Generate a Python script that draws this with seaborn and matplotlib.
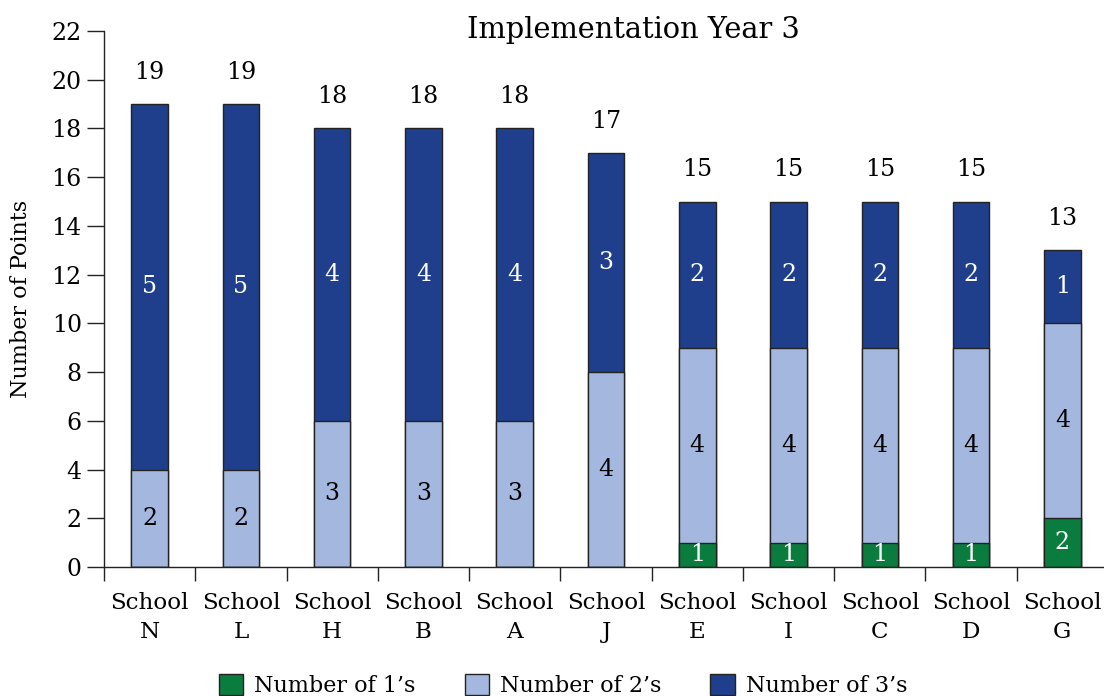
import numpy as np
import pandas as pd
import seaborn as sns
import matplotlib.pyplot as plt
from matplotlib.patches import Patch
from matplotlib.ticker import FixedLocator

# Counts per school (points = count * score)
schools = ["N", "L", "H", "B", "A", "J", "E", "I", "C", "D", "G"]
ones = [0, 0, 0, 0, 0, 0, 1, 1, 1, 1, 2]
twos = [2, 2, 3, 3, 3, 4, 4, 4, 4, 4, 4]
threes = [5, 5, 4, 4, 4, 3, 2, 2, 2, 2, 1]

df = pd.DataFrame({"school": ["School\n" + s for s in schools],
                   "ones": ones, "twos": twos, "threes": threes})
df["p1"] = df["ones"] * 1
df["p2"] = df["twos"] * 2
df["p3"] = df["threes"] * 3
df["c1"] = df["p1"]
df["c2"] = df["p1"] + df["p2"]
df["total"] = df["c2"] + df["p3"]

green = "#0a7c3e"
light = "#a4b8df"
dark = "#1f3f8c"

sns.set_style("white")
plt.rcParams["font.family"] = ["DejaVu Serif"]
plt.rcParams["text.color"] = "black"
plt.rcParams["axes.labelcolor"] = "black"
plt.rcParams["xtick.labelcolor"] = "black"
plt.rcParams["ytick.labelcolor"] = "black"

fig = plt.figure(figsize=(11.04, 6.96), dpi=100)
ax = fig.add_axes([104 / 1104, 1 - 567 / 696, 1004 / 1104, 536 / 696])

kw = dict(width=0.4, saturation=1, edgecolor="#222222", linewidth=1.0, ax=ax)
sns.barplot(data=df, x="school", y="total", color=dark, **kw)
sns.barplot(data=df, x="school", y="c2", color=light, **kw)
sns.barplot(data=df, x="school", y="c1", color=green, **kw)

fs = 17
for i, r in df.iterrows():
    if r["ones"] > 0:
        ax.text(i, r["c1"] / 2, str(r["ones"]), ha="center", va="center",
                color="white", fontsize=fs)
    if r["twos"] > 0:
        ax.text(i, r["c1"] + r["p2"] / 2, str(r["twos"]), ha="center",
                va="center", color="black", fontsize=fs)
    if r["threes"] > 0:
        ax.text(i, r["c2"] + r["p3"] / 2, str(r["threes"]), ha="center",
                va="center", color="white", fontsize=fs)
    ax.text(i, r["total"] + 1.3, str(r["total"]), ha="center", va="center",
            color="black", fontsize=fs)

ax.set_xlim(-0.5, 10.5)
ax.set_ylim(0, 22)
ax.set_yticks(range(0, 23, 2))
ax.set_xlabel("")
ax.set_ylabel("Number of Points", fontsize=16, labelpad=14)
sns.despine(ax=ax)
for s in ["left", "bottom"]:
    ax.spines[s].set_color("#222222")
    ax.spines[s].set_linewidth(1.0)
ax.tick_params(axis="y", direction="out", length=12, width=1, colors="#222222",
               labelcolor="black", labelsize=17, pad=4, left=True)
ax.tick_params(axis="x", which="major", length=0, labelsize=16.6, pad=18,
               labelcolor="black")
ax.xaxis.set_minor_locator(FixedLocator(np.arange(-0.5, 11, 1)))
ax.tick_params(axis="x", which="minor", direction="out", length=10, width=1,
               color="#222222", bottom=True)
for lab in ax.get_xticklabels():
    lab.set_linespacing(1.4)

fig.text(633 / 1104, 1 - 30 / 696, "Implementation Year 3", ha="center",
         va="center", fontsize=20.8)

handles = [Patch(facecolor=green, edgecolor="#222222", label="Number of 1\u2019s"),
           Patch(facecolor=light, edgecolor="#222222", label="Number of 2\u2019s"),
           Patch(facecolor=dark, edgecolor="#222222", label="Number of 3\u2019s")]
fig.legend(handles=handles, loc="lower center", bbox_to_anchor=(0.51, -0.03),
           ncol=3, frameon=False, fontsize=16, handlelength=1.1,
           handleheight=1.1, handletextpad=0.5, columnspacing=2.2)

fig.savefig("out.png", dpi=100)
